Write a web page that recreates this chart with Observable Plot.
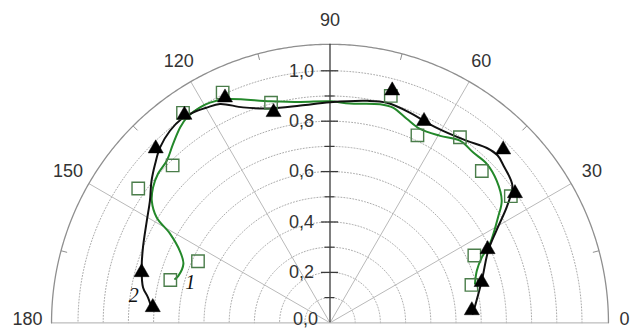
<!DOCTYPE html>
<html><head><meta charset="utf-8">
<script src="https://cdn.jsdelivr.net/npm/d3@7"></script>
<script src="https://cdn.jsdelivr.net/npm/@observablehq/plot@0.6"></script>
<style>html,body{margin:0;padding:0;background:#fff}#chart svg{display:block}</style>
</head><body><div id="chart"></div>
<script>
// ---- data ----
const angleTicks = [0, 30, 60, 90, 120, 150, 180];
const radialTicks = [0, 0.2, 0.4, 0.6, 0.8, 1.0];
const radialTickLabels = ["0,0", "0,2", "0,4", "0,6", "0,8", "1,0"];
const minorRadialTicks = [0.1, 0.3, 0.5, 0.7, 0.9];
const gridRings = [0.1, 0.2, 0.3, 0.4, 0.5, 0.6, 0.7, 0.8, 0.9, 1.0];
const spokeAngles = [30, 60, 120, 150];
const rimTickAngles = [15, 45, 75, 105, 135, 165];
const seriesNames = ["1", "2"];

// series 1 (green, open squares)
const s1Angle = [15, 25, 35, 45, 55, 65, 75, 105, 115, 125, 135, 145, 155, 165];
const s1R     = [0.581, 0.632, 0.876, 0.852, 0.899, 0.821, 0.932, 0.904, 1.008, 1.017, 0.883, 0.929, 0.578, 0.656];
// series 2 (black, filled triangles)
const s2Angle = [5, 15, 25, 35, 45, 65, 75, 105, 115, 125, 135, 165, 175];
const s2R     = [0.565, 0.623, 0.690, 0.896, 0.972, 0.883, 0.954, 0.865, 0.986, 1.007, 0.978, 0.774, 0.706];

// smoothed curves as traced in the reference
const c1Angle = [15.1, 19.5, 23.3, 26.3, 32.1, 35.4, 40.4, 45.4, 50, 54.5, 59.5, 65.1, 69.4, 73.7, 77.1, 84.8, 90, 97.6, 105, 114.8, 118.6, 121.1, 124.9, 127.5, 131.3, 135.2, 139.1, 142.6, 145.6, 148.7, 150.9, 154.4, 158.1, 162.8, 164.2];
const c1R     = [0.596, 0.618, 0.656, 0.708, 0.787, 0.836, 0.869, 0.886, 0.883, 0.888, 0.861, 0.848, 0.865, 0.890, 0.890, 0.874, 0.879, 0.884, 0.910, 0.978, 0.995, 0.998, 0.993, 0.977, 0.944, 0.913, 0.903, 0.884, 0.857, 0.805, 0.726, 0.661, 0.627, 0.630, 0.639];
const c2Angle = [3.6, 15.5, 24.5, 29, 33.5, 37, 42.2, 45, 48.1, 53, 59.5, 64.1, 69.1, 75.5, 80.5, 90, 97.7, 105.5, 112, 116.7, 119.8, 123.1, 126, 129.8, 134.1, 137.7, 141.5, 145.9, 150.9, 158.1, 163.6, 169.3, 172.1, 175.5];
const c2R     = [0.568, 0.625, 0.690, 0.755, 0.844, 0.906, 0.929, 0.940, 0.932, 0.904, 0.884, 0.882, 0.892, 0.902, 0.893, 0.875, 0.870, 0.883, 0.922, 0.972, 0.984, 0.996, 1.001, 0.992, 0.969, 0.938, 0.905, 0.863, 0.832, 0.800, 0.779, 0.755, 0.729, 0.709];

// ---- geometry helpers ----
const OUTER = 1.105;
const LABEL_R = 1.2;
const rad = a => a * Math.PI / 180;
const px = (a, r) => r * Math.cos(rad(a));
const py = (a, r) => r * Math.sin(rad(a));

const pts = (A, R) => A.map((a, i) => ({a, r: R[i]}));
const s1 = pts(s1Angle, s1R), s2 = pts(s2Angle, s2R);
const c1 = pts(c1Angle, c1R), c2 = pts(c2Angle, c2R);

const arcSteps = d3.range(0, 180.01, 1);
const ringPts = gridRings.flatMap(r => arcSteps.map(a => ({a, r})));
const rimPts = d3.range(0, 180.01, 0.5).map(a => ({a, r: OUTER}));

const X = d => px(d.a, d.r), Y = d => py(d.a, d.r);
const textColor = "#333";
const baseDy = d => (d === 0 ? -4 : 0);

const chart = Plot.plot({
  width: 630,
  height: 329,
  x: {domain: [-1, 1], range: [329.5 - 252, 329.5 + 252], axis: null},
  y: {domain: [0, 1], range: [322.3, 322.3 - 252], axis: null},
  style: {fontFamily: "Liberation Sans, Arial, sans-serif", background: "#fff"},
  marks: [
    // dotted grid rings
    Plot.line(ringPts, {x: X, y: Y, z: "r", stroke: "#a0a0a0", strokeWidth: 0.9, strokeDasharray: "1,2"}),
    // radial spokes
    Plot.link(spokeAngles, {x1: 0, y1: 0, x2: a => px(a, OUTER), y2: a => py(a, OUTER), stroke: "#b9b9b9", strokeWidth: 1}),
    // baseline
    Plot.ruleY([0], {x1: -OUTER, x2: OUTER, stroke: "#bdbdbd", strokeWidth: 1.2}),
    // outer rim
    Plot.line(rimPts, {x: X, y: Y, stroke: "#8f8f8f", strokeWidth: 1.3}),
    // rim ticks
    Plot.link(rimTickAngles, {x1: a => px(a, OUTER), y1: a => py(a, OUTER), x2: a => px(a, OUTER - 0.025), y2: a => py(a, OUTER - 0.025), stroke: "#8f8f8f", strokeWidth: 1}),
    // vertical radial axis
    Plot.ruleX([0], {y1: 0, y2: OUTER, stroke: "#3a3a3a", strokeWidth: 1.3}),
    Plot.ruleY(radialTicks.slice(1), {y: d => d, x1: -0.034, x2: 0.034, stroke: "#3a3a3a", strokeWidth: 1.3}),
    Plot.ruleY(minorRadialTicks, {y: d => d, x1: -0.02, x2: 0.02, stroke: "#3a3a3a", strokeWidth: 1.2}),
    // radial labels
    Plot.text(radialTicks.filter(d => d !== 0), {x: 0, y: d => d, text: d => radialTickLabels[radialTicks.indexOf(d)], textAnchor: "end", dx: -16, fontSize: 18, fill: textColor}),
    Plot.text(radialTicks.filter(d => d === 0), {x: 0, y: d => d, text: d => radialTickLabels[radialTicks.indexOf(d)], textAnchor: "end", dx: -12, dy: -4, fontSize: 18, fill: textColor}),
    // angle labels
    Plot.text(angleTicks.filter(a => a !== 0 && a !== 180), {x: a => px(a, LABEL_R), y: a => py(a, LABEL_R), text: a => String(a), fontSize: 18, fill: textColor}),
    Plot.text(angleTicks.filter(a => a === 180), {x: a => px(a, LABEL_R), y: a => py(a, LABEL_R), text: a => String(a), dy: -4, fontSize: 18, fill: textColor}),
    Plot.text(angleTicks.filter(a => a === 0), {x: a => px(a, LABEL_R), y: a => py(a, LABEL_R), text: a => String(a), dx: -8, dy: -4, fontSize: 18, fill: textColor}),
    // curves
    Plot.line(c1, {x: X, y: Y, stroke: "#23882a", strokeWidth: 2, curve: "catmull-rom"}),
    Plot.line(c2, {x: X, y: Y, stroke: "#111", strokeWidth: 2, curve: "catmull-rom"}),
    // markers
    Plot.dot(s1, {x: X, y: Y, symbol: "square", r: 7, stroke: "#4a7d4a", strokeWidth: 1.4, fill: "none"}),
    Plot.dot(s2, {x: X, y: Y, symbol: "triangle", r: 5.6, fill: "#000", stroke: "#000", strokeWidth: 0.5}),
    // series labels
    Plot.text([s1[s1.length - 1]], {x: X, y: Y, text: () => seriesNames[0], dx: 20, dy: 3, fontSize: 20, fontStyle: "italic", fontFamily: "Liberation Serif, Times New Roman, serif", fill: "#111"}),
    Plot.text([s2[s2.length - 1]], {x: X, y: Y, text: () => seriesNames[1], dx: -19, dy: -12, fontSize: 20, fontStyle: "italic", fontFamily: "Liberation Serif, Times New Roman, serif", fill: "#111"})
  ]
});
document.getElementById("chart").appendChild(chart);
</script>
</body></html>
